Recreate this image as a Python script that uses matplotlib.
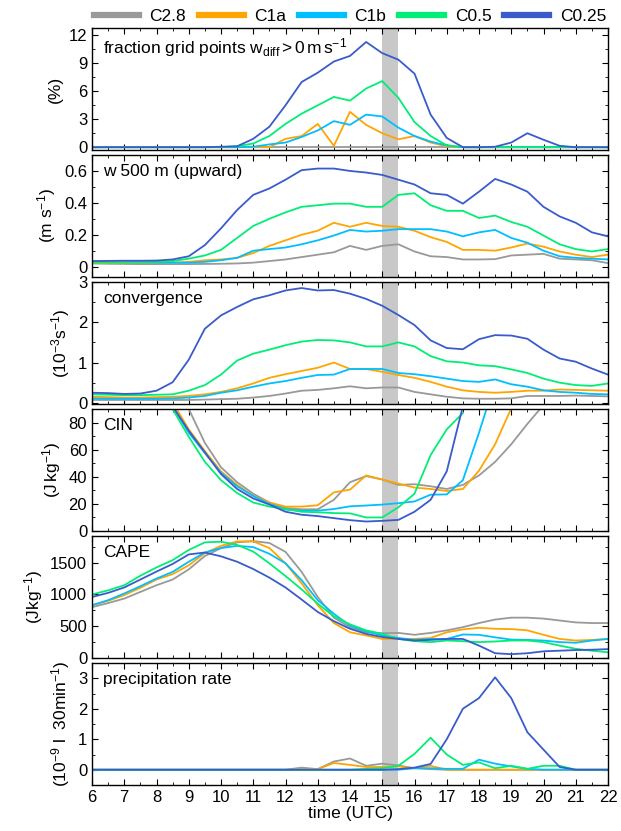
import numpy as np
import matplotlib
matplotlib.use("Agg")
import matplotlib.pyplot as plt
from matplotlib.ticker import MultipleLocator

plt.rcParams['font.family'] = ['Liberation Sans', 'DejaVu Sans']
plt.rcParams['mathtext.fontset'] = 'custom'
plt.rcParams['mathtext.rm'] = 'Liberation Sans'
plt.rcParams['mathtext.it'] = 'Liberation Sans'

# time axis: every 30 min from 06 to 22 UTC
time = np.arange(6.0, 22.01, 0.5)

runs = ['C2.8', 'C1a', 'C1b', 'C0.5', 'C0.25']
colors = ['#999999', '#ffa500', '#00bfff', '#00ee76', '#3a5bcb']

# fraction grid points w_diff > 0 (%)
frac_c28 = [0]*33
frac_c1a = [0]*12 + [0.9, 1.2, 2.5, 0.15, 3.8, 2.4, 1.5, 0.85, 1.2, 0.5, 0.1] + [0]*10
frac_c1b = [0]*10 + [0.05, 0.3, 0.5, 1.1, 1.8, 2.8, 2.4, 3.5, 3.3, 2.1, 1.2, 0.6, 0.2] + [0]*10
frac_c05 = [0]*9 + [0.1, 0.4, 1.2, 2.5, 3.6, 4.5, 5.4, 5.0, 6.3, 7.1, 5.3, 2.7, 1.2, 0.2] + [0]*10
frac_c025 = [0]*8 + [0.05, 0.1, 0.9, 2.2, 4.5, 7.0, 8.0, 9.2, 9.8, 11.3, 10.1, 9.4, 7.9, 3.5,
                     1.0, 0, 0, 0.05, 0.5, 1.5, 0.8, 0.15, 0, 0, 0]

# w at 500 m, upward (m/s)
w_c28 = [0.02, 0.018, 0.017, 0.016, 0.016, 0.016, 0.016, 0.017, 0.018, 0.02, 0.025, 0.035, 0.045,
         0.06, 0.075, 0.09, 0.13, 0.105, 0.13, 0.14, 0.095, 0.065, 0.06, 0.045, 0.045, 0.047,
         0.07, 0.075, 0.08, 0.05, 0.045, 0.04, 0.022]
w_c1a = [0.022, 0.022, 0.023, 0.024, 0.025, 0.025, 0.03, 0.04, 0.045, 0.055, 0.085, 0.13, 0.165,
         0.2, 0.225, 0.275, 0.25, 0.275, 0.255, 0.25, 0.225, 0.185, 0.155, 0.105, 0.105, 0.1,
         0.12, 0.145, 0.125, 0.095, 0.075, 0.06, 0.075]
w_c1b = [0.03, 0.028, 0.027, 0.026, 0.025, 0.025, 0.025, 0.03, 0.04, 0.055, 0.1, 0.11, 0.12,
         0.14, 0.165, 0.195, 0.23, 0.22, 0.225, 0.235, 0.235, 0.235, 0.22, 0.19, 0.215, 0.23,
         0.18, 0.15, 0.1, 0.065, 0.055, 0.05, 0.045]
w_c05 = [0.025, 0.026, 0.027, 0.028, 0.03, 0.035, 0.05, 0.07, 0.105, 0.18, 0.255, 0.3, 0.34,
         0.375, 0.385, 0.395, 0.395, 0.375, 0.375, 0.45, 0.46, 0.385, 0.35, 0.35, 0.305, 0.32,
         0.28, 0.25, 0.195, 0.14, 0.11, 0.095, 0.11]
w_c025 = [0.035, 0.036, 0.037, 0.037, 0.038, 0.045, 0.065, 0.135, 0.24, 0.355, 0.45, 0.49, 0.545,
          0.605, 0.615, 0.615, 0.6, 0.59, 0.575, 0.545, 0.515, 0.46, 0.45, 0.395, 0.47, 0.55,
          0.515, 0.47, 0.375, 0.315, 0.275, 0.215, 0.19]

# convergence (1e-3 1/s)
conv_c28 = [0.07, 0.07, 0.07, 0.07, 0.07, 0.07, 0.07, 0.08, 0.09, 0.1, 0.13, 0.17, 0.23,
            0.3, 0.32, 0.36, 0.41, 0.36, 0.38, 0.38, 0.27, 0.21, 0.15, 0.11, 0.1, 0.1,
            0.11, 0.17, 0.17, 0.17, 0.18, 0.17, 0.16]
conv_c1a = [0.15, 0.14, 0.13, 0.13, 0.14, 0.15, 0.17, 0.21, 0.27, 0.36, 0.48, 0.62, 0.71,
            0.79, 0.87, 1.0, 0.84, 0.84, 0.77, 0.69, 0.62, 0.52, 0.4, 0.31, 0.27, 0.25,
            0.27, 0.3, 0.3, 0.33, 0.32, 0.31, 0.3]
conv_c1b = [0.11, 0.1, 0.1, 0.1, 0.1, 0.11, 0.13, 0.17, 0.25, 0.31, 0.4, 0.48, 0.54,
            0.62, 0.69, 0.7, 0.84, 0.84, 0.84, 0.74, 0.71, 0.66, 0.6, 0.54, 0.52, 0.58,
            0.46, 0.4, 0.31, 0.27, 0.25, 0.22, 0.21]
conv_c05 = [0.21, 0.2, 0.19, 0.19, 0.2, 0.21, 0.3, 0.44, 0.7, 1.05, 1.22, 1.32, 1.43,
            1.52, 1.56, 1.55, 1.5, 1.4, 1.4, 1.5, 1.4, 1.16, 1.03, 1.0, 0.93, 0.91,
            0.83, 0.74, 0.6, 0.5, 0.44, 0.42, 0.48]
conv_c025 = [0.25, 0.24, 0.22, 0.23, 0.3, 0.51, 1.07, 1.84, 2.17, 2.38, 2.57, 2.67, 2.79,
             2.85, 2.79, 2.8, 2.71, 2.58, 2.41, 2.18, 1.93, 1.55, 1.36, 1.33, 1.58, 1.68,
             1.67, 1.59, 1.32, 1.1, 1.02, 0.85, 0.7]

# CIN (J/kg), values above the axis top are off scale
cin_c28 = [250, 220, 190, 160, 135, 112, 90, 65, 47, 36, 27.5, 21, 17, 16, 16, 23, 36, 40.5,
           38, 34, 34.5, 33, 31, 34, 41, 51, 64, 79, 93, 110, 130, 150, 170]
cin_c1a = [240, 210, 180, 150, 125, 95, 75, 59, 44, 34, 26, 21, 18, 18, 19, 28.5, 30.5, 41,
           38, 35, 32, 31, 29.5, 31, 44.5, 64, 90.5, 120, 150, 180, 200, 220, 240]
cin_c1b = [240, 210, 180, 150, 120, 92, 72.5, 57.5, 43, 33, 25.8, 20, 15.8, 15, 15, 16.2, 18.2,
           18.8, 19.5, 20.5, 21.8, 26.8, 27, 37.5, 72.5, 110, 140, 170, 200, 220, 240, 260, 280]
cin_c05 = [230, 200, 170, 140, 115, 90, 69.5, 51, 37.5, 28, 21, 18, 16.2, 14.2, 13.8, 13.2,
           13, 10, 10, 17.5, 27.5, 56, 75, 87, np.nan, np.nan, np.nan, np.nan, np.nan, np.nan,
           np.nan, np.nan, np.nan]
cin_c025 = [235, 205, 175, 145, 118, 92, 74, 58, 42, 31, 24, 19.5, 14.2, 12, 11, 9.5, 8, 7,
            7.5, 8.2, 14.2, 23, 44, 92, 130, 160, 190, 210, 230, 250, 270, 290, 310]

# CAPE (J/kg)
cape_c28 = [800, 865, 935, 1040, 1145, 1235, 1395, 1605, 1730, 1820, 1840, 1810, 1670, 1355,
            960, 635, 485, 405, 390, 395, 365, 395, 435, 485, 550, 605, 635, 635, 620, 590,
            560, 550, 550]
cape_c1a = [830, 900, 990, 1105, 1235, 1320, 1460, 1650, 1765, 1835, 1835, 1730, 1490, 1175,
            830, 550, 405, 355, 300, 300, 300, 315, 405, 450, 475, 460, 455, 435, 365, 300,
            275, 285, 300]
cape_c1b = [830, 910, 1015, 1130, 1250, 1355, 1515, 1660, 1730, 1765, 1745, 1640, 1490, 1225,
            910, 695, 510, 420, 355, 315, 285, 300, 300, 370, 365, 325, 290, 285, 275, 250,
            240, 275, 300]
cape_c05 = [1000, 1065, 1145, 1295, 1425, 1540, 1700, 1820, 1830, 1780, 1675, 1490, 1290, 1080,
            855, 655, 530, 435, 380, 300, 265, 250, 275, 265, 250, 260, 275, 275, 250, 195,
            145, 115, 90]
cape_c025 = [960, 1025, 1110, 1235, 1360, 1480, 1630, 1660, 1600, 1515, 1400, 1265, 1110, 920,
             725, 580, 460, 380, 330, 300, 275, 285, 300, 300, 195, 75, 60, 75, 105, 115,
             125, 130, 140]

# precipitation rate (1e-9 l / 30 min)
prec_c28 = [0]*12 + [0.0, 0.07, 0.02, 0.27, 0.37, 0.13, 0.2, 0.14, 0.05, 0.02] + [0]*11
prec_c1a = [0]*12 + [0.0, 0.02, 0.02, 0.22, 0.16, 0.09, 0.09, 0.11, 0.05, 0.13] + [0]*11
prec_c1b = [0]*20 + [0.05, 0.05, 0.03, 0.03, 0.33, 0.2, 0.11, 0.03] + [0]*5
prec_c05 = [0]*17 + [0.03, 0.05, 0.13, 0.52, 1.05, 0.5, 0.16, 0.24, 0.05, 0.13, 0.03, 0.13,
                     0.13, 0, 0, 0]
prec_c025 = [0]*19 + [0.02, 0.07, 0.19, 1.0, 2.0, 2.35, 3.03, 2.35, 1.23, 0.66, 0.09, 0, 0, 0]

panels = [
    ([frac_c28, frac_c1a, frac_c1b, frac_c05, frac_c025], 'fraction grid points w$_{\\mathrm{diff}}$$\\,$>$\\,$0$\\,$m$\\,$s$^{-1}$',
     '(%)', (-0.3, 12.8), [0, 3, 6, 9, 12], 1.5),
    ([w_c28, w_c1a, w_c1b, w_c05, w_c025], 'w 500 m (upward)',
     '(m s$^{-1}$)', (-0.065, 0.7), [0, 0.2, 0.4, 0.6], 0.1),
    ([conv_c28, conv_c1a, conv_c1b, conv_c05, conv_c025], 'convergence',
     '(10$^{-3}$s$^{-1}$)', (-0.03, 3.0), [0, 1, 2, 3], 0.5),
    ([cin_c28, cin_c1a, cin_c1b, cin_c05, cin_c025], 'CIN',
     '(J$\\,$kg$^{-1}$)', (0, 90), [0, 20, 40, 60, 80], 10),
    ([cape_c28, cape_c1a, cape_c1b, cape_c05, cape_c025], 'CAPE',
     '(Jkg$^{-1}$)', (0, 1920), [0, 500, 1000, 1500], 250),
    ([prec_c28, prec_c1a, prec_c1b, prec_c05, prec_c025], 'precipitation rate',
     '(10$^{-9}$ l  30min$^{-1}$)', (-0.5, 3.5), [0, 1, 2, 3], 0.5),
]

W, H = 621, 831
fig = plt.figure(figsize=(W / 100, H / 100), dpi=100)

left, right = 92, 608
tops = [28, 155, 282, 409, 536, 663]
ph = 122

axes = []
for i, (series, title, ylab, ylim, yt, yminor) in enumerate(panels):
    top = tops[i]
    ax = fig.add_axes([left / W, 1 - (top + ph) / H, (right - left) / W, ph / H])
    axes.append(ax)
    ax.axvspan(15.0, 15.5, color='#c8c8c8', lw=0, zorder=0)
    for vals, c, name in zip(series, colors, runs):
        ax.plot(time, vals, color=c, lw=1.3, label=name, zorder=2)
    ax.set_xlim(6, 22)
    ax.set_ylim(*ylim)
    ax.set_yticks(yt)
    ax.yaxis.set_minor_locator(MultipleLocator(yminor))
    ax.xaxis.set_major_locator(MultipleLocator(1))
    ax.xaxis.set_minor_locator(MultipleLocator(0.5))
    ax.tick_params(which='both', direction='in', top=True, right=True, labelsize=12)
    ax.tick_params(which='major', length=4)
    ax.tick_params(which='minor', length=2.5)
    ax.text(0.022, 0.93, title, transform=ax.transAxes, ha='left', va='top', fontsize=12.5)
    ax.set_ylabel(ylab, fontsize=12.5, labelpad=4)
    for s in ax.spines.values():
        s.set_linewidth(1.0)
    if i < len(panels) - 1:
        ax.tick_params(labelbottom=False)

axes[1].set_yticklabels(['0', '0.2', '0.4', '0.6'])
axes[-1].set_xlabel('time (UTC)', fontsize=12.5, labelpad=1)
axes[-1].set_xticks(range(6, 23))

handles, labels = axes[0].get_legend_handles_labels()
leg = fig.legend(handles, labels, loc='lower left', ncol=5, mode='expand',
                 bbox_to_anchor=(left / W, 1 - 26 / H, (right - left) / W, 24 / H),
                 frameon=False, fontsize=12.5, handlelength=2.6, handletextpad=0.6,
                 borderaxespad=0, borderpad=0.1, columnspacing=0.8)
for lh in leg.get_lines():
    lh.set_linewidth(4.5)

fig.savefig('out.png', dpi=100)
